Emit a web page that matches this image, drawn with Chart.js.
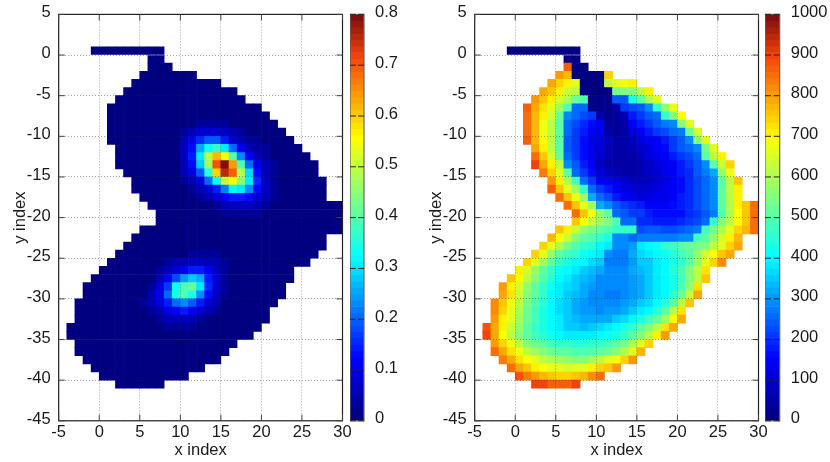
<!DOCTYPE html>
<html>
<head>
<meta charset="utf-8">
<script src="https://cdn.jsdelivr.net/npm/chart.js@4"></script>
<style>
  html, body { margin: 0; padding: 0; background: #fff; }
  canvas { position: absolute; top: 0; }
</style>
</head>
<body>
<canvas id="leftMap" width="365" height="462" style="left:0"></canvas>
<canvas id="leftBar" width="60" height="462" style="left:350px"></canvas>
<canvas id="rightMap" width="365" height="462" style="left:416px"></canvas>
<canvas id="rightBar" width="65" height="462" style="left:765px"></canvas>
<script>
// ===== Data =====
const xTicks = [-5, 0, 5, 10, 15, 20, 25, 30];
const yTicks = [5, 0, -5, -10, -15, -20, -25, -30, -35, -40, -45];
const densityTicks = [0, 0.1, 0.2, 0.3, 0.4, 0.5, 0.6, 0.7, 0.8];
const energyTicks = [0, 100, 200, 300, 400, 500, 600, 700, 800, 900, 1000];

// first x index of each row, rows run downwards from y = 1
const firstRowTop = 1;
const rowStart = [-1,6,6,5,4,3,2,1,1,1,1,1,2,2,2,3,4,4,5,6,7,7,5,4,3,2,1,0,-1,-2,-2,-3,-3,-3,-4,-4,-3,-3,-2,-1,0,2];

const densityRows = [
  [0,0,0,0,0,0,0,0,0],
  [0,0],
  [0,0,0],
  [0,0,0,0,0,0,0],
  [0,0,0,0,0,0,0,0,0,0,0],
  [0,0,0,0,0,0,0,0,0,0,0,0,0,0],
  [0,0,0,0,0,0,0,0,0,0,0,0,0,0,0,0],
  [0,0,0,0,0,0,0,0,0,0,0,0,0,0,0,0,0,0,0],
  [0,0,0,0,0,0,0,0,0,0,0,0,0,0,0,0,0,0,0,0],
  [0,0,0,0,0,0,0,0,0,0,0,.025,.035,.035,.025,0,0,0,0,0,0],
  [0,0,0,0,0,0,0,0,0,.035,.06,.085,.085,.085,.07,.05,.035,0,0,0,0,0],
  [0,0,0,0,0,0,0,0,0,.06,.11,.16,.19,.19,.15,.085,.06,.035,.025,0,0,0,0],
  [0,0,0,0,0,0,0,0,.07,.13,.26,.33,.37,.31,.21,.11,.06,.035,.025,0,0,0,0],
  [0,0,0,0,0,0,0,0,.07,.14,.31,.49,.62,.56,.405,.23,.12,.06,.035,0,0,0,0,0],
  [0,0,0,0,0,0,0,0,.06,.13,.28,.475,.71,.79,.64,.39,.2,.095,.05,.025,0,0,0,0,0],
  [0,0,0,0,0,0,0,.05,.095,.19,.355,.59,.75,.7,.49,.29,.13,.06,.035,0,0,0,0,0],
  [0,0,0,0,0,0,.025,.06,.095,.2,.33,.5,.56,.45,.31,.16,.07,.035,0,0,0,0,0,0],
  [0,0,0,0,0,0,0,.025,.05,.085,.14,.22,.32,.31,.23,.13,.07,.035,0,0,0,0,0,0],
  [0,0,0,0,0,0,0,.025,.05,.085,.12,.14,.15,.13,.085,.05,.025,0,0,0,0,0,0],
  [0,0,0,0,0,0,0,0,.035,.06,.07,.07,.07,.05,.035,0,0,0,0,0,0,0,0,0],
  [0,0,0,0,0,0,0,0,.025,.035,.035,.035,.025,0,0,0,0,0,0,0,0,0,0],
  [0,0,0,0,0,0,0,0,0,0,0,0,0,0,0,0,0,0,0,0,0,0,0],
  [0,0,0,0,0,0,0,0,0,0,0,0,0,0,0,0,0,0,0,0,0,0,0,0,0],
  [0,0,0,0,0,0,0,0,0,0,0,0,0,0,0,0,0,0,0,0,0,0,0,0],
  [0,0,0,0,0,0,0,0,0,0,0,0,0,0,0,0,0,0,0,0,0,0,0,0,0],
  [0,0,0,0,0,0,0,0,0,.025,.025,.025,.025,0,0,0,0,0,0,0,0,0,0,0,0],
  [0,0,0,0,0,0,0,.035,.05,.06,.07,.07,.06,.05,.035,0,0,0,0,0,0,0,0,0,0],
  [0,0,0,0,0,0,0,.035,.06,.085,.12,.15,.15,.12,.07,.035,0,0,0,0,0,0,0,0],
  [0,0,0,0,0,0,0,0,.06,.11,.18,.24,.28,.25,.15,.085,.035,0,0,0,0,0,0,0,0],
  [0,0,0,0,0,0,0,0,.035,.095,.17,.33,.39,.415,.31,.16,.085,.035,0,0,0,0,0,0,0],
  [0,0,0,0,0,0,0,0,.05,.11,.21,.345,.39,.345,.23,.13,.07,.035,0,0,0,0,0,0,0],
  [0,0,0,0,0,0,0,0,.025,.05,.095,.15,.21,.23,.19,.14,.085,.05,0,0,0,0,0,0,0],
  [0,0,0,0,0,0,0,0,0,.035,.06,.095,.12,.14,.11,.085,.05,.035,0,0,0,0,0,0],
  [0,0,0,0,0,0,0,0,0,0,.035,.05,.06,.07,.06,.035,0,0,0,0,0,0,0,0],
  [0,0,0,0,0,0,0,0,0,0,0,0,.025,.025,.025,.025,0,0,0,0,0,0,0,0],
  [0,0,0,0,0,0,0,0,0,0,0,0,0,0,0,0,0,0,0,0,0,0,0],
  [0,0,0,0,0,0,0,0,0,0,0,0,0,0,0,0,0,0,0,0],
  [0,0,0,0,0,0,0,0,0,0,0,0,0,0,0,0,0,0,0],
  [0,0,0,0,0,0,0,0,0,0,0,0,0,0,0,0,0],
  [0,0,0,0,0,0,0,0,0,0,0,0,0,0],
  [0,0,0,0,0,0,0,0,0,0,0],
  [0,0,0,0,0,0]
];

const energyRows = [
  [0,0,0,0,0,0,0,0,0],
  [0,0],
  [865,0,0],
  [805,775,0,0,0,0,745],
  [795,745,705,670,0,0,0,620,660,680,715],
  [795,755,715,635,610,0,0,0,0,540,550,560,620,705],
  [805,765,715,645,600,525,490,20,20,20,235,245,430,515,600,670],
  [865,795,725,660,585,490,265,265,25,25,25,50,215,225,245,285,465,575,680],
  [855,775,705,645,525,295,255,225,205,50,25,35,70,175,215,235,265,455,550,695],
  [855,775,680,620,515,265,225,195,165,145,35,35,60,155,185,205,235,275,285,550,670],
  [855,775,680,610,500,255,215,175,155,145,50,40,60,110,155,175,205,225,255,275,525,645],
  [865,775,695,610,500,245,205,165,130,110,85,55,55,85,120,145,155,175,215,245,285,550,670],
  [795,715,620,515,245,205,165,130,110,70,60,60,70,95,120,145,165,205,235,265,295,540,670],
  [845,765,645,525,255,215,165,130,95,70,60,60,60,85,110,130,155,175,205,225,265,500,610,705],
  [905,795,705,610,295,235,185,130,85,60,50,50,55,70,85,110,130,155,185,215,235,285,500,635,735],
  [835,745,660,515,255,205,165,110,85,65,60,60,65,85,100,125,150,175,200,235,275,315,575,680],
  [805,705,600,480,255,215,155,130,110,95,85,80,85,100,120,145,165,195,225,255,295,515,620,755],
  [865,755,670,585,465,265,215,175,145,120,110,95,100,110,130,150,170,195,220,250,290,515,610,705],
  [845,765,680,585,315,265,225,185,155,140,120,120,125,140,155,175,200,225,255,290,500,610,705],
  [855,755,670,585,325,285,245,215,195,175,155,150,150,160,175,200,225,250,285,515,600,705,765,845],
  [845,755,680,575,500,265,235,215,205,180,170,160,160,170,190,215,240,275,490,600,695,765,845],
  [755,695,635,585,550,490,265,255,195,190,180,175,180,190,205,225,255,465,560,620,695,765,845],
  [765,705,635,575,540,515,490,465,455,455,225,245,240,230,225,235,250,275,480,540,600,670,735,775,855],
  [775,695,635,560,515,490,465,430,295,285,265,275,275,275,275,280,285,295,480,515,575,645,715,775],
  [735,660,600,540,490,465,440,405,385,295,295,300,385,395,420,455,480,500,525,540,560,610,670,735,795],
  [745,670,575,515,480,455,420,395,385,285,275,275,325,365,375,395,420,440,480,515,575,645,695,755,785],
  [735,670,585,515,465,430,405,395,365,345,275,270,275,305,345,355,375,395,430,465,515,585,660,735,815],
  [715,645,575,515,465,420,395,375,355,335,315,295,295,295,315,335,355,375,405,440,490,560,620,725],
  [765,695,620,550,490,440,405,375,355,335,315,295,290,290,295,305,325,355,375,395,430,480,550,620,755],
  [805,715,645,575,515,465,420,385,365,345,325,305,295,285,285,290,300,315,345,375,395,430,490,575,725],
  [785,725,635,560,500,455,405,375,355,335,315,295,285,280,280,290,300,325,355,375,405,455,525,635,785],
  [825,755,680,610,540,490,440,400,365,345,325,305,295,285,285,290,300,315,345,370,395,440,515,620,755],
  [815,745,670,600,525,480,430,395,365,345,325,310,300,295,300,310,325,345,375,405,440,500,620,725],
  [805,715,660,585,525,480,430,395,375,355,335,325,315,315,325,345,365,395,430,480,525,585,695,795],
  [885,795,705,635,575,515,465,430,405,375,355,345,335,345,365,385,395,430,465,500,550,620,725,795],
  [895,795,695,620,560,515,480,440,420,395,390,385,385,390,400,410,430,455,500,550,620,715,805],
  [805,745,680,610,560,525,500,480,465,455,450,450,455,465,480,500,540,600,670,745],
  [855,785,725,680,620,585,550,525,515,500,490,490,495,500,525,550,600,660,775],
  [835,785,725,695,660,620,600,585,575,560,560,585,610,660,695,735,805],
  [845,795,755,715,695,670,660,645,660,670,705,745,765,805],
  [885,835,805,775,755,745,745,755,775,815,845],
  [905,895,865,865,865,895]
];

// ===== Colour map =====
const paletteStops = [[0, 0, 0, 128], [0.15, 0, 0, 255], [0.4, 0, 255, 255], [0.7, 255, 255, 0], [0.9, 245, 70, 10], [1, 130, 15, 15]];
const levels = 64;

function palette(t) {
  // palette is stepped like the original colorbar
  t = Math.min(Math.floor(t * levels), levels - 1) / (levels - 1);
  for (let i = 1; i < paletteStops.length; i++) {
    const a = paletteStops[i - 1], b = paletteStops[i];
    if (t <= b[0]) {
      const f = (t - a[0]) / (b[0] - a[0]);
      return `rgb(${a[1] + (b[1] - a[1]) * f},${a[2] + (b[2] - a[2]) * f},${a[3] + (b[3] - a[3]) * f})`;
    }
  }
  return 'rgb(130,15,15)';
}

// ===== Decorations =====
const font = { family: '"Liberation Sans", Arial, sans-serif', size: 16.5 };
const inkColor = '#1a1a1a';

const framePlugin = {
  id: 'frame',
  afterDraw(chart) {
    const { ctx, chartArea: a, scales } = chart;
    const isBar = !scales.x.options.display;
    const len = 6;
    ctx.save();
    ctx.strokeStyle = isBar ? '#666' : '#222';
    ctx.lineWidth = 1.2;
    ctx.strokeRect(a.left, a.top, a.right - a.left, a.bottom - a.top);
    ctx.strokeStyle = isBar ? '#222' : '#444';
    ctx.lineWidth = 1;
    ctx.beginPath();
    scales.y.ticks.forEach(t => {
      const p = scales.y.getPixelForValue(t.value);
      ctx.moveTo(a.left, p); ctx.lineTo(a.left + len, p);
      ctx.moveTo(a.right, p); ctx.lineTo(a.right - len, p);
    });
    if (!isBar) {
      scales.x.ticks.forEach(t => {
        const p = scales.x.getPixelForValue(t.value);
        ctx.moveTo(p, a.bottom); ctx.lineTo(p, a.bottom - len);
        ctx.moveTo(p, a.top); ctx.lineTo(p, a.top + len);
      });
    }
    ctx.stroke();
    ctx.restore();
  }
};

// tick padding is fixed so the plot area stays where the picture has it
function noScalePadding(s) {
  s.paddingLeft = s.paddingRight = s.paddingTop = s.paddingBottom = 0;
}

// ===== Heat map =====
function buildCells(rows) {
  const cells = [];
  rows.forEach((row, r) => {
    row.forEach((v, i) => {
      const top = firstRowTop - r;
      cells.push({ x: rowStart[r] + i + 0.5, y: [top - 1, top], v });
    });
  });
  return cells;
}

function drawMap(id, rows, max) {
  const grid = { z: 1, color: 'rgba(40,40,40,0.42)', lineWidth: 1, drawTicks: false };
  new Chart(document.getElementById(id), {
    type: 'bar',
    data: {
      datasets: [{
        data: buildCells(rows),
        backgroundColor: c => palette(c.raw.v / max),
        borderWidth: 0,
        barPercentage: 1,
        categoryPercentage: 1
      }]
    },
    options: {
      responsive: false,
      animation: false,
      layout: { padding: { top: 14.4, right: 22.5 } },
      plugins: { legend: { display: false }, tooltip: { enabled: false } },
      scales: {
        x: {
          type: 'linear', min: -5, max: 30, offset: false,
          afterBuildTicks: s => { s.ticks = xTicks.map(value => ({ value })); },
          afterFit: s => { s.height = 41.2; noScalePadding(s); },
          grid: { ...grid, offset: false },
          border: { display: false, dash: [1, 2] },
          ticks: { color: inkColor, font, padding: 2, maxRotation: 0, autoSkip: false, callback: v => String(v) },
          title: { display: true, text: 'x index', color: inkColor, font, padding: { top: 0, bottom: 2 } }
        },
        y: {
          type: 'linear', min: -45, max: 5,
          afterBuildTicks: s => { s.ticks = yTicks.map(value => ({ value })); },
          afterFit: s => { s.width = 58.7; noScalePadding(s); },
          grid,
          border: { display: false, dash: [1, 2] },
          ticks: { color: inkColor, font, padding: 8, labelOffset: -1.5, autoSkip: false, callback: v => String(v) },
          title: { display: true, text: 'y index', color: inkColor, font, padding: { top: 11, bottom: 0 } }
        }
      }
    },
    plugins: [framePlugin]
  });
}

// ===== Colorbar =====
function drawColorbar(id, tickValues, max, barWidth) {
  const steps = [];
  for (let i = 0; i < levels; i++) {
    steps.push({ x: 'c', y: [i * max / levels, (i + 1) * max / levels], v: (i + 0.5) / levels });
  }
  new Chart(document.getElementById(id), {
    type: 'bar',
    data: {
      labels: ['c'],
      datasets: [{
        data: steps,
        backgroundColor: c => palette(c.raw.v),
        borderWidth: 0,
        barPercentage: 1,
        categoryPercentage: 1
      }]
    },
    options: {
      responsive: false,
      animation: false,
      layout: { padding: { top: 14.4, bottom: 41.2 } },
      plugins: { legend: { display: false }, tooltip: { enabled: false } },
      scales: {
        x: { display: false },
        y: {
          position: 'right', min: 0, max,
          afterBuildTicks: s => { s.ticks = tickValues.map(value => ({ value })); },
          afterFit: s => { s.width = s.chart.width - barWidth; noScalePadding(s); },
          grid: { display: false },
          border: { display: false },
          ticks: { color: inkColor, font, padding: 3, labelOffset: -2, autoSkip: false, callback: v => String(v) }
        }
      }
    },
    plugins: [framePlugin]
  });
}

drawMap('leftMap', densityRows, 0.8);
drawColorbar('leftBar', densityTicks, 0.8, 14);
drawMap('rightMap', energyRows, 1000);
drawColorbar('rightBar', energyTicks, 1000, 14.7);
</script>
</body>
</html>
